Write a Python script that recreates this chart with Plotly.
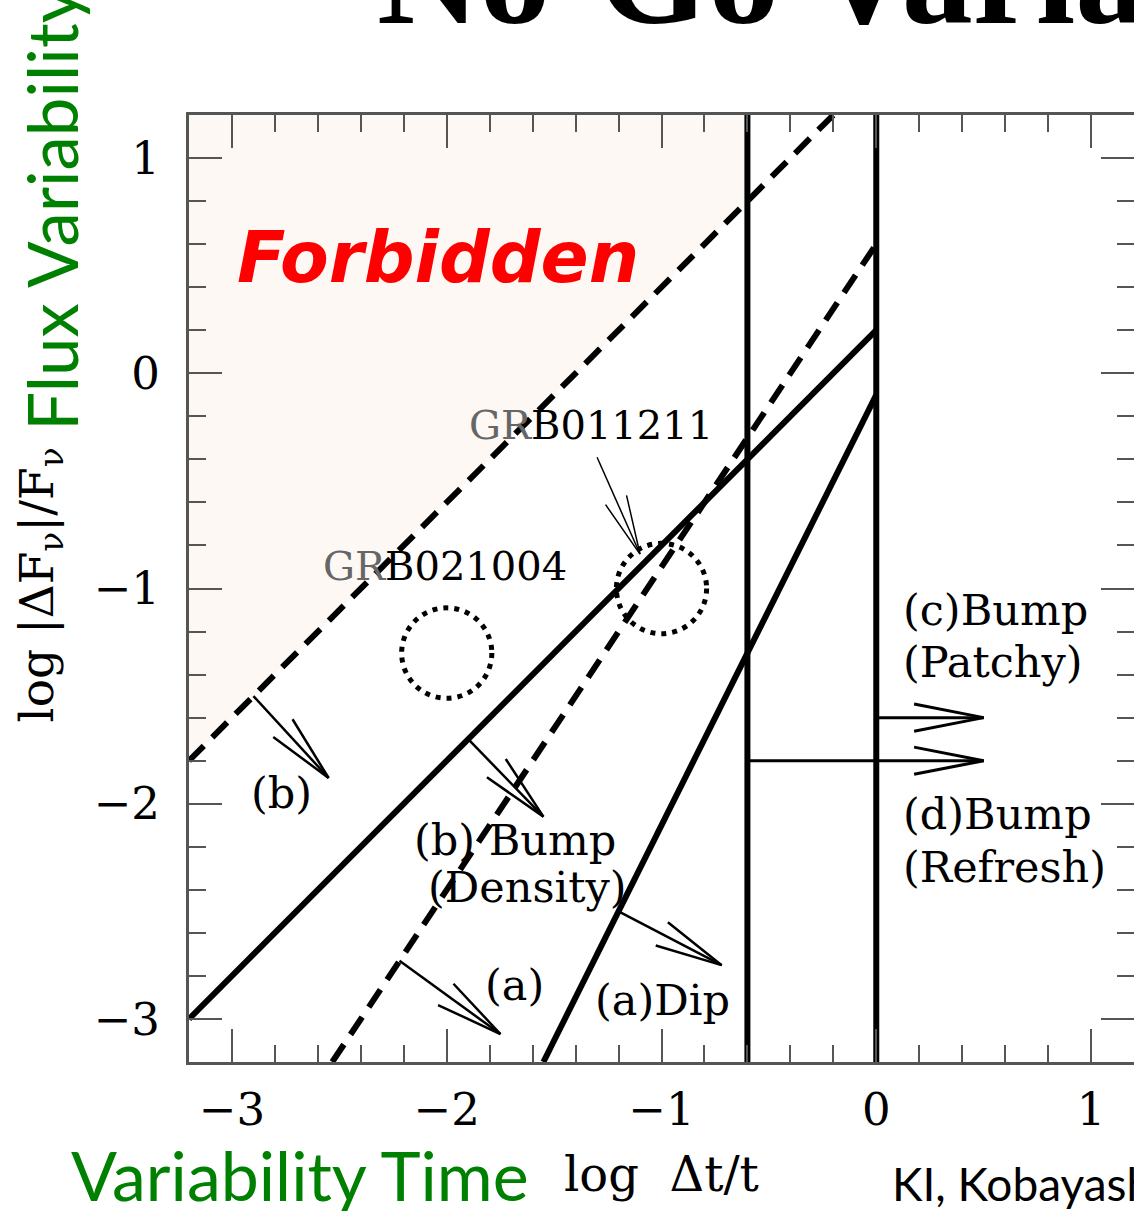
import math
import plotly.graph_objects as go

# ---------------- data ----------------
x_range = [-3.2, 1.2]
y_range = [-3.2, 1.2]
x_tick_vals = [-3, -2, -1, 0, 1]
x_tick_text = ["\u22123", "\u22122", "\u22121", "0", "1"]
y_tick_vals = [-3, -2, -1, 0, 1]
y_tick_text = ["\u22123", "\u22122", "\u22121", "0", "1"]

# forbidden region (shaded)
forbid_x = [-3.2, -0.6, -0.6, -3.2]
forbid_y = [-1.8, 0.8, 1.2, 1.2]

# dashed limit lines
limit_b_x = [-3.2, -0.2]
limit_b_y = [-1.8, 1.2]
limit_a_x = [-2.533, 0.0]
limit_a_y = [-3.2, 0.6]

# solid lines
bump_b_x = [-3.2, 0.0]
bump_b_y = [-3.0, 0.2]
dip_a_x = [-1.55, 0.0]
dip_a_y = [-3.2, -0.1]

# vertical lines
vlines_x = [-0.6, 0.0]

# arrows: start -> tip
arrow_x0 = [-2.90, -1.90, -2.22, -1.20, 0.00, -0.60, -1.30]
arrow_y0 = [-1.50, -1.70, -2.73, -2.50, -1.60, -1.80, -0.39]
arrow_x1 = [-2.55, -1.55, -1.75, -0.72, 0.50, 0.50, -1.10]
arrow_y1 = [-1.88, -2.06, -3.07, -2.75, -1.60, -1.80, -0.84]
arrow_w = [2.5, 2.5, 2.5, 2.5, 3, 3, 1.5]
arrow_len = [0.32, 0.32, 0.32, 0.32, 0.33, 0.33, 0.28]

# GRB circles
grb_names = ["GRB021004", "GRB011211"]
grb_cx = [-2.0, -1.0]
grb_cy = [-1.3, -1.0]
grb_r = [0.21, 0.21]
grb_label_x = [-2.01, -1.33]
grb_label_y = [-0.895, -0.24]

# in-plot labels
label_text = ["(b)", "(b) Bump", "(Density)", "(a)", "(a)Dip",
              "(c)Bump", "(Patchy)", "(d)Bump", "(Refresh)"]
label_x = [-2.77, -1.68, -1.625, -1.685, -0.995, 0.116, 0.116, 0.116, 0.116]
label_y = [-1.95, -2.17, -2.385, -2.84, -2.91, -1.10, -1.34, -2.05, -2.295]
label_anchor = ["center", "center", "center", "center", "center",
                "left", "left", "left", "left"]

# ---------------- figure ----------------
fig = go.Figure()

fig.add_trace(go.Scatter(x=forbid_x + [forbid_x[0]], y=forbid_y + [forbid_y[0]],
                         fill="toself", fillcolor="#FDF8F4", mode="none",
                         hoverinfo="skip"))

fig.add_trace(go.Scatter(x=limit_b_x, y=limit_b_y, mode="lines",
                         line=dict(color="black", width=6, dash="21px,12px")))
fig.add_trace(go.Scatter(x=limit_a_x, y=limit_a_y, mode="lines",
                         line=dict(color="black", width=6, dash="21px,12px")))
fig.add_trace(go.Scatter(x=bump_b_x, y=bump_b_y, mode="lines",
                         line=dict(color="black", width=6)))
fig.add_trace(go.Scatter(x=dip_a_x, y=dip_a_y, mode="lines",
                         line=dict(color="black", width=6)))
for vx in vlines_x:
    fig.add_trace(go.Scatter(x=[vx, vx], y=y_range, mode="lines",
                             line=dict(color="black", width=6)))

half = math.radians(11)
for x0, y0, x1, y1, w, L in zip(arrow_x0, arrow_y0, arrow_x1, arrow_y1, arrow_w, arrow_len):
    ang = math.atan2(y0 - y1, x0 - x1)
    ax1 = x1 + L * math.cos(ang + half)
    ay1 = y1 + L * math.sin(ang + half)
    ax2 = x1 + L * math.cos(ang - half)
    ay2 = y1 + L * math.sin(ang - half)
    fig.add_trace(go.Scatter(x=[x0, x1, None, ax1, x1, ax2],
                             y=[y0, y1, None, ay1, y1, ay2],
                             mode="lines", line=dict(color="black", width=w)))

for cx, cy, r in zip(grb_cx, grb_cy, grb_r):
    fig.add_shape(type="circle", xref="x", yref="y",
                  x0=cx - r, x1=cx + r, y0=cy - r, y1=cy + r,
                  line=dict(color="black", width=5, dash="5px,6px"))

serif = "DejaVu Serif"
for name, lx, ly in zip(grb_names, grb_label_x, grb_label_y):
    fig.add_annotation(x=lx, y=ly, xref="x", yref="y", showarrow=False,
                       xanchor="center", yanchor="middle",
                       text='<span style="color:#666">GR</span>' + name[2:],
                       font=dict(family=serif, size=40, color="black"))

for t, lx, ly, anc in zip(label_text, label_x, label_y, label_anchor):
    fig.add_annotation(x=lx, y=ly, xref="x", yref="y", showarrow=False, text=t,
                       xanchor=anc, yanchor="middle",
                       font=dict(family=serif, size=43, color="black"))

fig.add_annotation(x=-2.04, y=0.54, xref="x", yref="y", showarrow=False,
                   xanchor="center", yanchor="middle",
                   text="<b><i>Forbidden</i></b>",
                   font=dict(family="DejaVu Sans", size=71, color="#FF0000"))

# title (cut off at top)
fig.add_annotation(x=0.197, y=1.062, xref="paper", yref="paper", showarrow=False,
                   xanchor="left", yanchor="bottom", text="<b>No-Go Variability</b>",
                   font=dict(family="Liberation Serif", size=142, color="black"))

# y axis titles
fig.add_annotation(x=-0.158, y=0.504, xref="paper", yref="paper", showarrow=False,
                   xanchor="center", yanchor="middle", textangle=-90,
                   text="log\u00a0|\u0394F<sub>\u03bd</sub>|/F<sub>\u03bd</sub>",
                   font=dict(family=serif, size=47, color="black"))
fig.add_annotation(x=-0.145, y=0.665, xref="paper", yref="paper", showarrow=False,
                   xanchor="center", yanchor="bottom", textangle=-90,
                   text="Flux Variability",
                   font=dict(family="Lato", size=69, color="#008000"))

# x axis titles
fig.add_annotation(x=0.117, y=-0.119, xref="paper", yref="paper", showarrow=False,
                   xanchor="center", yanchor="middle", text="Variability Time",
                   font=dict(family="Lato", size=68, color="#008000"))
fig.add_annotation(x=0.5005, y=-0.118, xref="paper", yref="paper", showarrow=False,
                   xanchor="center", yanchor="middle", text="log\u00a0\u00a0\u0394t/t",
                   font=dict(family=serif, size=48, color="black"))
fig.add_annotation(x=0.742, y=-0.128, xref="paper", yref="paper", showarrow=False,
                   xanchor="left", yanchor="middle", text="KI, Kobayashi &amp; Zhang",
                   font=dict(family="Lato", size=46, color="black"))

axis_common = dict(ticks="inside", ticklen=33, tickwidth=2, tickcolor="#555",
                   showline=True, linecolor="#555", linewidth=3, mirror="ticks",
                   showgrid=False, zeroline=False,
                   tickfont=dict(family=serif, size=45, color="black"),
                   minor=dict(dtick=0.2, tick0=0, ticks="inside", ticklen=17,
                              tickwidth=2, tickcolor="#555", showgrid=False))

fig.update_xaxes(range=x_range, tickvals=x_tick_vals, ticktext=x_tick_text,
                 ticklabelstandoff=6, **axis_common)
fig.update_yaxes(range=y_range, tickvals=y_tick_vals, ticktext=y_tick_text,
                 ticklabelstandoff=17, **axis_common)

fig.update_layout(width=1134, height=1211,
                  margin=dict(l=189, r=0, t=115, b=149, autoexpand=False),
                  plot_bgcolor="white", paper_bgcolor="white", showlegend=False)

fig.write_html("out.html")
